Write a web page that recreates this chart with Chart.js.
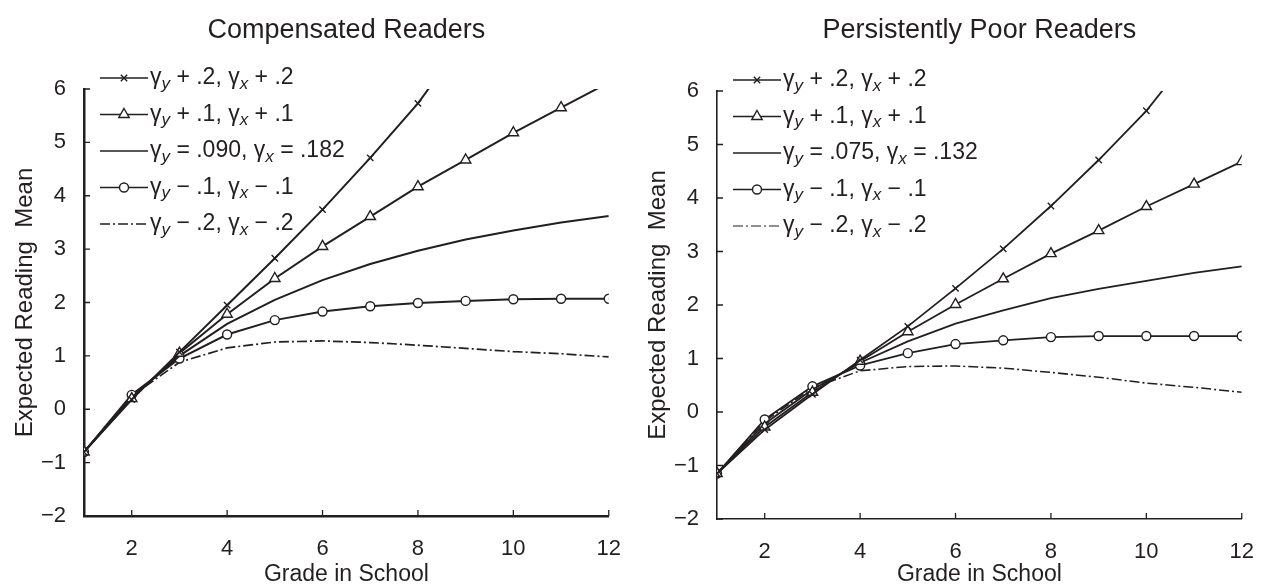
<!DOCTYPE html>
<html>
<head>
<meta charset="utf-8">
<script src="https://cdn.jsdelivr.net/npm/chart.js@4.4.0/dist/chart.umd.min.js"></script>
<style>
  html, body { margin: 0; padding: 0; background: #fff; }
  #wrap { display: flex; width: 1266px; height: 586px; }
  .panel { position: relative; width: 633px; height: 586px; }
</style>
</head>
<body>
<div id="wrap">
  <div class="panel"><canvas id="left"></canvas></div>
  <div class="panel"><canvas id="right"></canvas></div>
</div>
<script>
// ─── DATA ────────────────────────────────────────────────────────────────
const grades = [1, 2, 3, 4, 5, 6, 7, 8, 9, 10, 11, 12];
const xTicks = [2, 4, 6, 8, 10, 12];
const yTicks = [-2, -1, 0, 1, 2, 3, 4, 5, 6];
const yTickLabels = ['\u22122', '\u22121', '0', '1', '2', '3', '4', '5', '6'];

// Compensated Readers
const compPlus2  = [-0.8, 0.18, 1.07, 1.95, 2.83, 3.74, 4.71, 5.73, 6.96];
const compPlus1  = [-0.8, 0.20, 1.05, 1.78, 2.45, 3.05, 3.61, 4.17, 4.67, 5.18, 5.65, 6.12];
const compBase   = [-0.8, 0.22, 1.00, 1.60, 2.05, 2.42, 2.72, 2.97, 3.18, 3.35, 3.50, 3.62];
const compMinus1 = [-0.8, 0.27, 0.95, 1.40, 1.67, 1.83, 1.93, 1.99, 2.03, 2.06, 2.07, 2.07];
const compMinus2 = [-0.8, 0.25, 0.88, 1.15, 1.26, 1.28, 1.25, 1.20, 1.14, 1.08, 1.04, 0.98];
const compLabels = [
  'γ_y + .2, γ_x + .2',
  'γ_y + .1, γ_x + .1',
  'γ_y = .090, γ_x = .182',
  'γ_y \u2212 .1, γ_x \u2212 .1',
  'γ_y \u2212 .2, γ_x \u2212 .2'
];

// Persistently Poor Readers
const poorPlus2  = [-1.15, -0.33, 0.33, 0.97, 1.60, 2.31, 3.05, 3.85, 4.71, 5.63, 6.75];
const poorPlus1  = [-1.15, -0.28, 0.37, 0.95, 1.50, 2.01, 2.49, 2.96, 3.39, 3.84, 4.26, 4.68];
const poorBase   = [-1.15, -0.22, 0.42, 0.92, 1.32, 1.65, 1.90, 2.13, 2.30, 2.45, 2.60, 2.72];
const poorMinus1 = [-1.15, -0.14, 0.48, 0.87, 1.10, 1.27, 1.34, 1.40, 1.42, 1.42, 1.42, 1.42];
const poorMinus2 = [-1.15, -0.17, 0.45, 0.77, 0.85, 0.86, 0.82, 0.74, 0.65, 0.54, 0.46, 0.37];
const poorLabels = [
  'γ_y + .2, γ_x + .2',
  'γ_y + .1, γ_x + .1',
  'γ_y = .075, γ_x = .132',
  'γ_y \u2212 .1, γ_x \u2212 .1',
  'γ_y \u2212 .2, γ_x \u2212 .2'
];

// ─── STYLE ───────────────────────────────────────────────────────────────
const ink = '#231f20';
const family = '"Liberation Sans", Arial, Helvetica, sans-serif';
Chart.defaults.font.family = family;
Chart.defaults.color = ink;

const pts = arr => arr.map((v, i) => ({ x: grades[i], y: v }));

// the five series share one look in both panels
function makeDatasets(series, labels, lw) {
  const looks = [
    { pointStyle: 'crossRot', pointRadius: 4.5 },
    { pointStyle: 'triangle', pointRadius: 6 },
    { pointStyle: 'circle',   pointRadius: 0 },
    { pointStyle: 'circle',   pointRadius: 4.5 },
    { pointStyle: 'circle',   pointRadius: 0, borderDash: [10, 3, 2, 3] }
  ];
  return series.map((s, i) => ({
    label: labels[i],
    data: pts(s),
    borderColor: ink,
    backgroundColor: '#fff',
    borderWidth: i === 4 ? lw * 0.85 : lw,
    borderDash: looks[i].borderDash || [],
    pointStyle: looks[i].pointStyle,
    pointRadius: looks[i].pointRadius,
    pointHoverRadius: looks[i].pointRadius,
    pointBorderColor: ink,
    pointBackgroundColor: '#fff',
    pointBorderWidth: 1.4,
    tension: 0
  }));
}

// ─── PLUGINS ─────────────────────────────────────────────────────────────

// panel title, centred over the plot area rather than the canvas
const panelTitle = {
  id: 'panelTitle',
  afterDraw(chart, args, opts) {
    const { ctx, chartArea: a } = chart;
    ctx.save();
    ctx.fillStyle = ink;
    ctx.font = '27px ' + family;
    ctx.textAlign = 'center';
    ctx.textBaseline = 'middle';
    ctx.fillText(opts.text, (a.left + a.right) / 2, 31);
    ctx.restore();
  }
};

// legend with subscripts (γ_y), drawn in the top-left of the plot
const subLegend = {
  id: 'subLegend',
  afterDatasetsDraw(chart) {
    const { ctx, chartArea: a } = chart;
    ctx.save();
    chart.data.datasets.forEach((ds, i) => {
      const y = a.top - 11 + i * 36.5;
      const x0 = a.left + 16, x1 = x0 + 48;
      ctx.strokeStyle = ink;
      ctx.lineWidth = ds.borderWidth * 0.8;
      ctx.setLineDash(ds.borderDash);
      ctx.beginPath(); ctx.moveTo(x0, y); ctx.lineTo(x1, y); ctx.stroke();
      ctx.setLineDash([]);
      if (ds.pointRadius > 0) {
        ctx.fillStyle = '#fff';
        ctx.lineWidth = ds.pointBorderWidth;
        Chart.helpers.drawPoint(ctx, {
          pointStyle: ds.pointStyle, radius: ds.pointRadius, rotation: 0,
          borderWidth: ds.pointBorderWidth
        }, (x0 + x1) / 2, y);
      }
      // text, '_c' = subscript c
      ctx.fillStyle = ink;
      ctx.textBaseline = 'middle';
      let x = x1 + 2;
      const parts = ds.label.split(/(_.)/);
      parts.forEach(p => {
        if (!p) return;
        if (p[0] === '_') {
          ctx.font = 'italic 17px ' + family;
          ctx.fillText(p[1], x, y + 6);
          x += ctx.measureText(p[1]).width;
        } else {
          ctx.font = '23px ' + family;
          ctx.fillText(p, x, y);
          x += ctx.measureText(p).width;
        }
      });
    });
    ctx.restore();
  }
};

// tick marks pointing into the plot
const innerTicks = {
  id: 'innerTicks',
  afterDraw(chart) {
    const { ctx, chartArea: a, scales: { x, y } } = chart;
    ctx.save();
    ctx.strokeStyle = ink;
    ctx.lineWidth = 1.3;
    ctx.beginPath();
    x.ticks.forEach(t => {
      const px = x.getPixelForValue(t.value);
      ctx.moveTo(px, a.bottom); ctx.lineTo(px, a.bottom - 6);
    });
    y.ticks.forEach(t => {
      const py = y.getPixelForValue(t.value);
      ctx.moveTo(a.left, py); ctx.lineTo(a.left + 6, py);
    });
    ctx.stroke();
    ctx.restore();
  }
};

// ─── CHART ───────────────────────────────────────────────────────────────
function makeChart(id, title, series, labels, box) {
  return new Chart(document.getElementById(id), {
    type: 'line',
    data: { datasets: makeDatasets(series, labels, box.lw) },
    plugins: [subLegend, innerTicks, panelTitle],
    options: {
      responsive: true,
      maintainAspectRatio: false,
      animation: false,
      events: [],
      layout: { padding: { left: 0, right: box.right, top: box.top, bottom: 0 } },
      plugins: {
        legend: { display: false },
        tooltip: { enabled: false },
        title: { display: false },
        panelTitle: { text: title }
      },
      scales: {
        x: {
          type: 'linear', min: 1, max: 12,
          afterBuildTicks: s => { s.ticks = xTicks.map(v => ({ value: v })); },
          afterFit: s => { s.height = box.bottom; },
          grid: { display: false },
          border: { display: true, color: ink, width: box.axis },
          ticks: { color: ink, font: { size: 22 }, padding: 12, maxRotation: 0, autoSkip: false },
          title: { display: true, text: 'Grade in School', color: ink, font: { size: 23, lineHeight: 1 }, padding: { top: 0, bottom: 0 } }
        },
        y: {
          min: -2, max: 6,
          afterBuildTicks: s => { s.ticks = yTicks.map(v => ({ value: v })); },
          afterFit: s => { s.width = box.left; },
          grid: { display: false },
          border: { display: true, color: ink, width: box.axis },
          ticks: {
            color: ink, font: { size: 22 }, padding: 10, autoSkip: false,
            callback: v => yTickLabels[yTicks.indexOf(v)]
          },
          title: { display: true, text: 'Expected Reading  Mean', color: ink, font: { size: 24 }, padding: { top: 11, bottom: 0 } }
        }
      }
    }
  });
}

makeChart('left', 'Compensated Readers',
  [compPlus2, compPlus1, compBase, compMinus1, compMinus2], compLabels,
  { left: 84, right: 19, top: 89, bottom: 70, axis: 2.5, lw: 2 });

makeChart('right', 'Persistently Poor Readers',
  [poorPlus2, poorPlus1, poorBase, poorMinus1, poorMinus2], poorLabels,
  { left: 84, right: 20, top: 91, bottom: 67, axis: 1.6, lw: 1.8 });
</script>
</body>
</html>
